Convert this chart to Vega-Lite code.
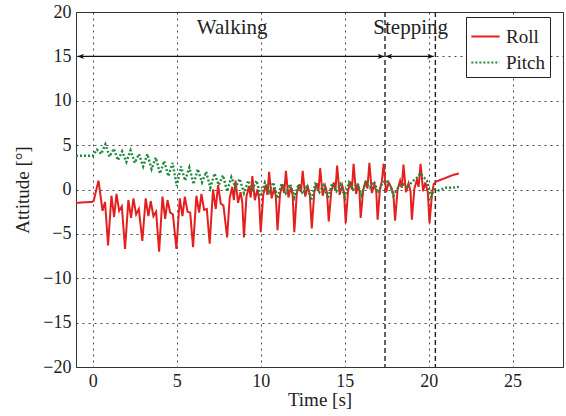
{
"$schema": "https://vega.github.io/schema/vega-lite/v6.json",
"autosize": "none",
"width": 487,
"height": 355,
"padding": {"left": 76, "top": 12, "right": 3, "bottom": 49},
"background": "white",
"config": {
  "font": "Liberation Serif",
  "view": {"stroke": "#333", "strokeWidth": 1},
  "legend": {"labelFont": "Liberation Serif"},
  "axis": {"labelFont": "Liberation Serif", "titleFont": "Liberation Serif", "labelFontSize": 18, "titleFontSize": 19, "labelColor": "#222", "titleColor": "#222", "titleFontWeight": "normal", "domain": false, "ticks": false, "grid": true, "gridColor": "#333", "gridDash": [2, 4], "gridWidth": 1, "gridOpacity": 0.9}
},
"datasets": {
  "series": [
    {"s":"Roll","t":-1.0,"v":-1.5},{"s":"Roll","t":-0.05,"v":-1.4},{"s":"Roll","t":0.05,"v":-1.3},{"s":"Roll","t":0.34,"v":1.0},{"s":"Roll","t":0.58,"v":-2.4},{"s":"Roll","t":0.73,"v":-1.4},
    {"s":"Roll","t":0.91,"v":-6.3},{"s":"Roll","t":1.11,"v":-0.7},{"s":"Roll","t":1.27,"v":-3.1},{"s":"Roll","t":1.41,"v":-0.5},{"s":"Roll","t":1.57,"v":-2.4},{"s":"Roll","t":1.73,"v":-1.9},
    {"s":"Roll","t":1.92,"v":-6.7},{"s":"Roll","t":2.12,"v":-1.2},{"s":"Roll","t":2.28,"v":-3.2},{"s":"Roll","t":2.42,"v":-1.0},{"s":"Roll","t":2.58,"v":-2.8},{"s":"Roll","t":2.74,"v":-2.2},
    {"s":"Roll","t":2.95,"v":-5.8},{"s":"Roll","t":3.15,"v":-1.0},{"s":"Roll","t":3.31,"v":-3.0},{"s":"Roll","t":3.45,"v":-1.3},{"s":"Roll","t":3.61,"v":-3.0},{"s":"Roll","t":3.77,"v":-2.5},
    {"s":"Roll","t":3.95,"v":-7.0},{"s":"Roll","t":4.15,"v":-0.8},{"s":"Roll","t":4.31,"v":-3.3},{"s":"Roll","t":4.45,"v":-1.2},{"s":"Roll","t":4.61,"v":-2.6},{"s":"Roll","t":4.77,"v":-2.8},
    {"s":"Roll","t":4.98,"v":-6.7},{"s":"Roll","t":5.18,"v":-1.0},{"s":"Roll","t":5.34,"v":-3.0},{"s":"Roll","t":5.48,"v":-0.8},{"s":"Roll","t":5.64,"v":-2.5},{"s":"Roll","t":5.8,"v":-2.6},
    {"s":"Roll","t":5.97,"v":-6.5},{"s":"Roll","t":6.17,"v":-0.7},{"s":"Roll","t":6.33,"v":-2.6},{"s":"Roll","t":6.47,"v":-0.5},{"s":"Roll","t":6.63,"v":-2.3},{"s":"Roll","t":6.79,"v":-2.2},
    {"s":"Roll","t":6.96,"v":-6.1},{"s":"Roll","t":7.16,"v":0.0},{"s":"Roll","t":7.32,"v":-2.2},{"s":"Roll","t":7.46,"v":0.5},{"s":"Roll","t":7.62,"v":-1.6},{"s":"Roll","t":7.78,"v":-1.8},
    {"s":"Roll","t":8.0,"v":-5.4},{"s":"Roll","t":8.15,"v":-1.0},{"s":"Roll","t":8.3,"v":0.3},{"s":"Roll","t":8.4,"v":-1.2},{"s":"Roll","t":8.5,"v":1.0},{"s":"Roll","t":8.65,"v":-1.5},{"s":"Roll","t":8.8,"v":-0.3},{"s":"Roll","t":8.9,"v":-1.4},
    {"s":"Roll","t":9.0,"v":-5.4},{"s":"Roll","t":9.15,"v":-0.8},{"s":"Roll","t":9.3,"v":0.4},{"s":"Roll","t":9.4,"v":-0.9},{"s":"Roll","t":9.5,"v":1.5},{"s":"Roll","t":9.65,"v":-1.2},{"s":"Roll","t":9.8,"v":0.0},{"s":"Roll","t":9.9,"v":-1.0},
    {"s":"Roll","t":10.0,"v":-4.8},{"s":"Roll","t":10.15,"v":-0.6},{"s":"Roll","t":10.3,"v":0.5},{"s":"Roll","t":10.4,"v":-0.6},{"s":"Roll","t":10.5,"v":2.0},{"s":"Roll","t":10.65,"v":-1.0},{"s":"Roll","t":10.8,"v":0.2},{"s":"Roll","t":10.9,"v":-0.8},
    {"s":"Roll","t":11.0,"v":-4.6},{"s":"Roll","t":11.15,"v":-0.5},{"s":"Roll","t":11.3,"v":0.6},{"s":"Roll","t":11.4,"v":-0.4},{"s":"Roll","t":11.5,"v":2.1},{"s":"Roll","t":11.65,"v":-0.9},{"s":"Roll","t":11.8,"v":0.3},{"s":"Roll","t":11.9,"v":-0.6},
    {"s":"Roll","t":12.0,"v":-4.8},{"s":"Roll","t":12.15,"v":-0.4},{"s":"Roll","t":12.3,"v":0.6},{"s":"Roll","t":12.4,"v":-0.3},{"s":"Roll","t":12.5,"v":2.1},{"s":"Roll","t":12.65,"v":-0.8},{"s":"Roll","t":12.8,"v":0.3},{"s":"Roll","t":12.92,"v":-0.5},
    {"s":"Roll","t":13.04,"v":-4.4},{"s":"Roll","t":13.19,"v":-0.3},{"s":"Roll","t":13.34,"v":0.7},{"s":"Roll","t":13.44,"v":-0.2},{"s":"Roll","t":13.54,"v":2.4},{"s":"Roll","t":13.69,"v":-0.7},{"s":"Roll","t":13.84,"v":0.4},{"s":"Roll","t":13.95,"v":-0.4},
    {"s":"Roll","t":14.05,"v":-3.6},{"s":"Roll","t":14.2,"v":-0.2},{"s":"Roll","t":14.35,"v":0.8},{"s":"Roll","t":14.45,"v":-0.1},{"s":"Roll","t":14.55,"v":2.7},{"s":"Roll","t":14.7,"v":-0.6},{"s":"Roll","t":14.85,"v":0.5},{"s":"Roll","t":14.96,"v":-0.3},
    {"s":"Roll","t":15.06,"v":-3.8},{"s":"Roll","t":15.2,"v":-0.2},{"s":"Roll","t":15.33,"v":0.9},{"s":"Roll","t":15.43,"v":0.0},{"s":"Roll","t":15.53,"v":2.9},{"s":"Roll","t":15.68,"v":-0.5},{"s":"Roll","t":15.8,"v":0.6},{"s":"Roll","t":15.88,"v":-0.2},
    {"s":"Roll","t":15.95,"v":-3.2},{"s":"Roll","t":16.1,"v":-0.1},{"s":"Roll","t":16.25,"v":1.0},{"s":"Roll","t":16.35,"v":0.1},{"s":"Roll","t":16.47,"v":3.0},{"s":"Roll","t":16.62,"v":-0.4},{"s":"Roll","t":16.77,"v":0.6},{"s":"Roll","t":16.88,"v":-0.2},
    {"s":"Roll","t":16.96,"v":-3.4},{"s":"Roll","t":17.1,"v":0.0},{"s":"Roll","t":17.22,"v":1.0},{"s":"Roll","t":17.32,"v":2.9},{"s":"Roll","t":17.47,"v":-0.3},{"s":"Roll","t":17.62,"v":0.8},{"s":"Roll","t":17.75,"v":0.3},{"s":"Roll","t":17.9,"v":-0.5},
    {"s":"Roll","t":18.0,"v":-3.5},{"s":"Roll","t":18.15,"v":0.0},{"s":"Roll","t":18.3,"v":1.0},{"s":"Roll","t":18.4,"v":0.2},{"s":"Roll","t":18.5,"v":2.8},{"s":"Roll","t":18.65,"v":-0.3},{"s":"Roll","t":18.8,"v":0.7},{"s":"Roll","t":18.92,"v":-0.2},
    {"s":"Roll","t":19.0,"v":-3.4},{"s":"Roll","t":19.15,"v":0.1},{"s":"Roll","t":19.3,"v":1.1},{"s":"Roll","t":19.4,"v":0.3},{"s":"Roll","t":19.52,"v":2.9},{"s":"Roll","t":19.67,"v":-0.2},{"s":"Roll","t":19.8,"v":0.8},{"s":"Roll","t":19.95,"v":-0.3},
    {"s":"Roll","t":20.05,"v":-3.8},{"s":"Roll","t":20.2,"v":-0.5},{"s":"Roll","t":20.3,"v":0.6},{"s":"Roll","t":20.45,"v":0.9},{"s":"Roll","t":21.0,"v":1.3},{"s":"Roll","t":21.4,"v":1.6},{"s":"Roll","t":21.8,"v":1.8},
    {"s":"Pitch","t":-1.0,"v":3.8},{"s":"Pitch","t":0.0,"v":3.8},{"s":"Pitch","t":0.25,"v":4.5},{"s":"Pitch","t":0.5,"v":4.0},{"s":"Pitch","t":0.75,"v":5.1},{"s":"Pitch","t":1.0,"v":3.7},
    {"s":"Pitch","t":1.25,"v":4.6},{"s":"Pitch","t":1.5,"v":3.3},{"s":"Pitch","t":1.75,"v":4.3},{"s":"Pitch","t":2.0,"v":3.1},{"s":"Pitch","t":2.25,"v":4.4},{"s":"Pitch","t":2.5,"v":3.0},
    {"s":"Pitch","t":2.75,"v":4.0},{"s":"Pitch","t":3.0,"v":2.6},{"s":"Pitch","t":3.25,"v":4.0},{"s":"Pitch","t":3.5,"v":2.3},{"s":"Pitch","t":3.75,"v":3.6},{"s":"Pitch","t":4.0,"v":1.8},
    {"s":"Pitch","t":4.25,"v":3.2},{"s":"Pitch","t":4.5,"v":1.5},{"s":"Pitch","t":4.75,"v":3.0},{"s":"Pitch","t":5.0,"v":0.4},{"s":"Pitch","t":5.25,"v":2.6},{"s":"Pitch","t":5.5,"v":1.0},
    {"s":"Pitch","t":5.75,"v":2.5},{"s":"Pitch","t":6.0,"v":0.6},{"s":"Pitch","t":6.25,"v":2.3},{"s":"Pitch","t":6.5,"v":0.8},{"s":"Pitch","t":6.75,"v":2.0},{"s":"Pitch","t":7.0,"v":0.2},
    {"s":"Pitch","t":7.25,"v":1.8},{"s":"Pitch","t":7.5,"v":0.5},{"s":"Pitch","t":7.75,"v":1.6},{"s":"Pitch","t":8.0,"v":-0.2},{"s":"Pitch","t":8.25,"v":1.4},{"s":"Pitch","t":8.5,"v":0.2},
    {"s":"Pitch","t":8.75,"v":1.2},{"s":"Pitch","t":9.0,"v":-0.4},{"s":"Pitch","t":9.25,"v":1.0},{"s":"Pitch","t":9.5,"v":0.0},{"s":"Pitch","t":9.75,"v":1.0},{"s":"Pitch","t":10.0,"v":-0.8},
    {"s":"Pitch","t":10.25,"v":0.8},{"s":"Pitch","t":10.5,"v":-0.3},{"s":"Pitch","t":10.75,"v":0.8},{"s":"Pitch","t":11.0,"v":-1.0},{"s":"Pitch","t":11.25,"v":0.7},{"s":"Pitch","t":11.5,"v":-0.4},
    {"s":"Pitch","t":11.75,"v":0.6},{"s":"Pitch","t":12.0,"v":-0.9},{"s":"Pitch","t":12.25,"v":0.6},{"s":"Pitch","t":12.5,"v":-0.5},{"s":"Pitch","t":12.75,"v":0.5},{"s":"Pitch","t":13.0,"v":-1.2},
    {"s":"Pitch","t":13.25,"v":0.6},{"s":"Pitch","t":13.5,"v":-0.3},{"s":"Pitch","t":13.75,"v":0.5},{"s":"Pitch","t":14.0,"v":-1.0},{"s":"Pitch","t":14.25,"v":0.7},{"s":"Pitch","t":14.5,"v":-0.2},
    {"s":"Pitch","t":14.75,"v":0.6},{"s":"Pitch","t":15.0,"v":-0.8},{"s":"Pitch","t":15.25,"v":0.8},{"s":"Pitch","t":15.5,"v":0.0},{"s":"Pitch","t":15.75,"v":0.7},{"s":"Pitch","t":16.0,"v":-0.6},
    {"s":"Pitch","t":16.25,"v":0.8},{"s":"Pitch","t":16.5,"v":0.2},{"s":"Pitch","t":16.75,"v":0.9},{"s":"Pitch","t":17.0,"v":-0.4},{"s":"Pitch","t":17.25,"v":0.8},{"s":"Pitch","t":17.5,"v":1.0},
    {"s":"Pitch","t":17.75,"v":0.3},{"s":"Pitch","t":17.9,"v":-0.7},{"s":"Pitch","t":18.25,"v":0.4},{"s":"Pitch","t":18.5,"v":0.6},{"s":"Pitch","t":18.75,"v":0.1},{"s":"Pitch","t":19.0,"v":0.9},
    {"s":"Pitch","t":19.25,"v":1.2},{"s":"Pitch","t":19.5,"v":1.8},{"s":"Pitch","t":19.75,"v":1.3},{"s":"Pitch","t":19.9,"v":1.0},{"s":"Pitch","t":20.15,"v":-0.8},{"s":"Pitch","t":20.35,"v":0.0},
    {"s":"Pitch","t":20.6,"v":-0.1},{"s":"Pitch","t":21.0,"v":0.2},{"s":"Pitch","t":21.4,"v":0.2},{"s":"Pitch","t":21.8,"v":0.3}
  ]
},
"encoding": {
  "x": {"type": "quantitative", "scale": {"domain": [-1, 28], "nice": false, "zero": false}},
  "y": {"type": "quantitative", "scale": {"domain": [-20, 20], "nice": false, "zero": false}}
},
"layer": [
  {
    "data": {"values": [{"t": 17.4}, {"t": 20.4}]},
    "mark": {"type": "rule", "color": "#222", "strokeWidth": 1.4, "strokeDash": [5, 3]},
    "encoding": {"x": {"field": "t", "type": "quantitative", "axis": {"values": [0, 5, 10, 15, 20, 25], "title": "Time [s]", "labelPadding": 5, "titlePadding": 0}}}
  },
  {
    "data": {"values": [{"a": -0.9, "b": 17.35, "y": 15}, {"a": 17.45, "b": 20.3, "y": 15}]},
    "mark": {"type": "rule", "color": "#111", "strokeWidth": 1.3},
    "encoding": {
      "x": {"field": "a", "type": "quantitative"},
      "x2": {"field": "b"},
      "y": {"field": "y", "type": "quantitative", "axis": {"values": [-20, -15, -10, -5, 0, 5, 10, 15, 20], "title": "Attitude [°]", "labelPadding": 5, "titlePadding": 10}}
    }
  },
  {
    "data": {"values": [{"x": -0.9, "y": 15}, {"x": 17.45, "y": 15}]},
    "mark": {"type": "point", "shape": "M0,0L2,-0.8L1.5,0L2,0.8Z", "filled": true, "color": "#111", "opacity": 1, "size": 40},
    "encoding": {"x": {"field": "x", "type": "quantitative"}, "y": {"field": "y", "type": "quantitative"}}
  },
  {
    "data": {"values": [{"x": 17.35, "y": 15}, {"x": 20.3, "y": 15}]},
    "mark": {"type": "point", "shape": "M0,0L-2,-0.8L-1.5,0L-2,0.8Z", "filled": true, "color": "#111", "opacity": 1, "size": 40},
    "encoding": {"x": {"field": "x", "type": "quantitative"}, "y": {"field": "y", "type": "quantitative"}}
  },
  {
    "data": {"values": [{"x": 8.3, "y": 18.2, "label": "Walking"}, {"x": 18.93, "y": 18.2, "label": "Stepping"}]},
    "mark": {"type": "text", "font": "Liberation Serif", "fontSize": 21, "color": "#222", "align": "center", "baseline": "middle"},
    "encoding": {"x": {"field": "x", "type": "quantitative"}, "y": {"field": "y", "type": "quantitative"}, "text": {"field": "label"}}
  },
  {
    "data": {"name": "series"},
    "transform": [{"filter": "datum.s === 'Roll'"}],
    "mark": {"type": "line", "strokeWidth": 2, "interpolate": "linear"},
    "encoding": {
      "x": {"field": "t", "type": "quantitative"},
      "y": {"field": "v", "type": "quantitative"},
      "color": {"field": "s", "type": "nominal", "scale": {"domain": ["Roll", "Pitch"], "range": ["#e3201e", "#1e8a3c"]}, "legend": {"title": null, "orient": "none", "legendX": 390, "legendY": 5, "strokeColor": "#222", "fillColor": "white", "padding": 4, "symbolType": "stroke", "symbolSize": 800, "symbolStrokeWidth": 2, "labelFont": "Liberation Serif", "labelFontSize": 19, "labelColor": "#222", "labelOffset": 5, "rowPadding": 0}},
      "strokeDash": {"field": "s", "type": "nominal", "scale": {"domain": ["Roll", "Pitch"], "range": [[1, 0], [2, 2]]}, "legend": {"title": null}}
    }
  },
  {
    "data": {"name": "series"},
    "transform": [{"filter": "datum.s === 'Pitch'"}],
    "mark": {"type": "line", "strokeWidth": 2.4, "interpolate": "linear"},
    "encoding": {
      "x": {"field": "t", "type": "quantitative"},
      "y": {"field": "v", "type": "quantitative"},
      "color": {"field": "s", "type": "nominal"},
      "strokeDash": {"field": "s", "type": "nominal"}
    }
  }
]
}
